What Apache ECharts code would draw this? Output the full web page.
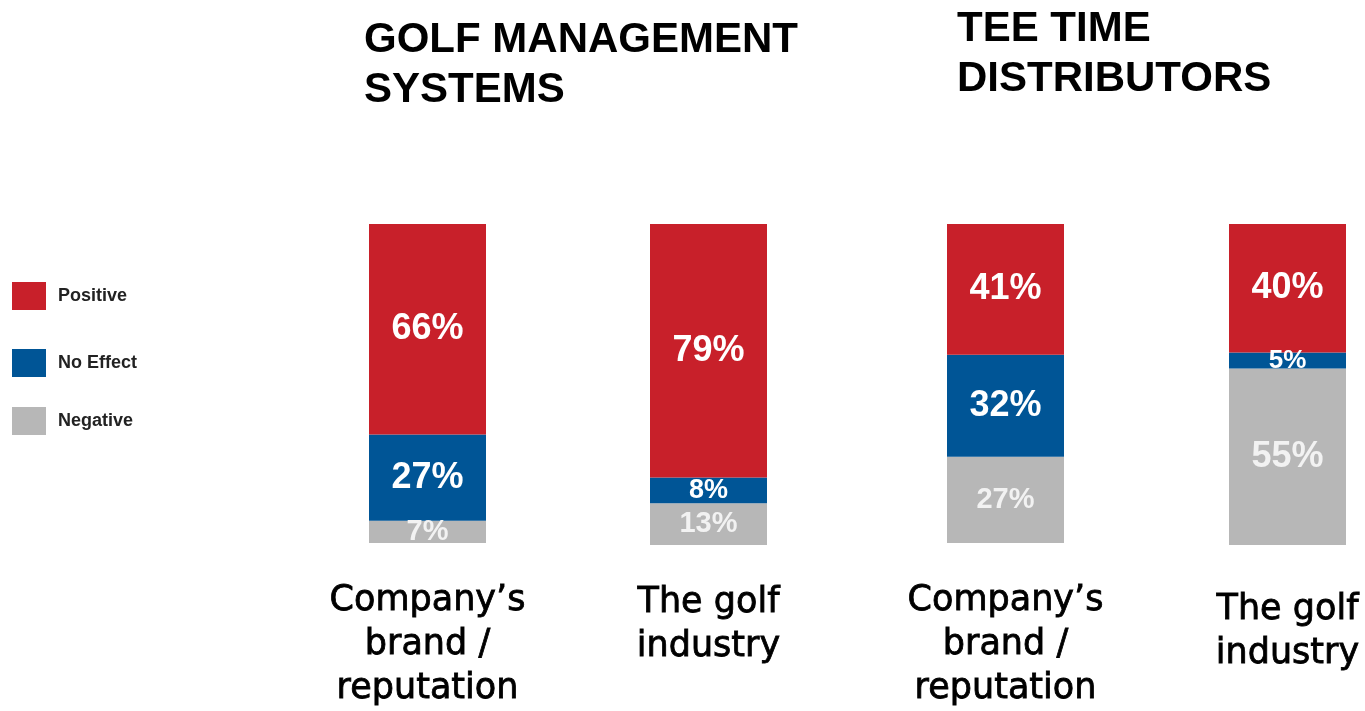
<!DOCTYPE html>
<html>
<head>
<meta charset="utf-8">
<script src="https://cdn.jsdelivr.net/npm/echarts@6/dist/echarts.min.js"></script>
<style>
  html, body { margin: 0; padding: 0; background: #fff; }
  #chart { width: 1365px; height: 711px; }
</style>
</head>
<body>
<div id="chart"></div>
<script>
// Impact ratings per group (percent of respondents)
const categories = [
  'Company\u2019s\nbrand /\nreputation',
  'The golf\nindustry',
  'Company\u2019s\nbrand /\nreputation',
  'The golf\nindustry'
];
const positive = [66, 79, 41, 40];
const noEffect = [27, 8, 32, 5];
const negative = [7, 13, 27, 55];
const seriesNames = ['Positive', 'No Effect', 'Negative'];
const groupTitles = ['GOLF MANAGEMENT\nSYSTEMS', 'TEE TIME\nDISTRIBUTORS'];

const colors = { 'Positive': '#C8202A', 'No Effect': '#005596', 'Negative': '#B7B7B7' };

// one grid per column so each bar sits at its own position
const barCenters = [427, 708, 1005, 1287];
const barWidth = 117;
const labelMargins = [36, 36, 36, 43];
const valueFont = [
  { 'Positive': 36, 'No Effect': 36, 'Negative': 29 },
  { 'Positive': 36, 'No Effect': 27, 'Negative': 29 },
  { 'Positive': 36, 'No Effect': 36, 'Negative': 29 },
  { 'Positive': 36, 'No Effect': 26, 'Negative': 36 }
];

const grids = [], xAxes = [], yAxes = [], series = [];
categories.forEach((cat, i) => {
  grids.push({ left: Math.round(barCenters[i] - barWidth / 2), width: barWidth, top: 224, height: 321 });
  xAxes.push({
    type: 'category', gridIndex: i, data: [cat],
    axisLine: { show: false }, axisTick: { show: false },
    axisLabel: {
      margin: labelMargins[i], fontFamily: 'DejaVu Sans', fontSize: 35,
      lineHeight: 44, color: '#000', interval: 0,
      textBorderColor: '#000', textBorderWidth: 0.8
    }
  });
  yAxes.push({ type: 'value', gridIndex: i, min: 0, max: 100, show: false });
  const vals = { 'Positive': positive[i], 'No Effect': noEffect[i], 'Negative': negative[i] };
  ['Negative', 'No Effect', 'Positive'].forEach(name => {
    series.push({
      name: name, type: 'bar', stack: 'col' + i,
      xAxisIndex: i, yAxisIndex: i,
      barWidth: '100%',
      data: [vals[name]],
      itemStyle: { color: colors[name] },
      label: {
        show: true, position: 'inside',
        formatter: p => p.value + '%',
        color: name === 'Negative' ? '#F2F2F2' : '#FFFFFF',
        fontFamily: 'Liberation Sans', fontWeight: 'bold',
        fontSize: valueFont[i][name]
      },
      emphasis: { disabled: true }
    });
  });
});

const legendTops = [282, 349, 407];
const titleStyle = { fontFamily: 'Liberation Sans', fontWeight: 'bold', fontSize: 42, lineHeight: 50, color: '#000' };
const option = {
  animation: false,
  backgroundColor: '#fff',
  title: [
    { text: groupTitles[0], left: 364, top: 15, padding: 0, textStyle: titleStyle },
    { text: groupTitles[1], left: 957, top: 4, padding: 0, textStyle: titleStyle }
  ],
  legend: seriesNames.map((name, k) => ({
    data: [name], orient: 'vertical', left: 12, top: legendTops[k],
    itemWidth: 34, itemHeight: 28, itemGap: 0, padding: 0,
    icon: 'rect', selectedMode: false,
    textStyle: { fontFamily: 'Liberation Sans', fontWeight: 'bold', fontSize: 18, color: '#222', padding: [0, 0, 0, 7] }
  })),
  grid: grids,
  xAxis: xAxes,
  yAxis: yAxes,
  series: series
};

echarts.init(document.getElementById('chart')).setOption(option);
</script>
</body>
</html>
